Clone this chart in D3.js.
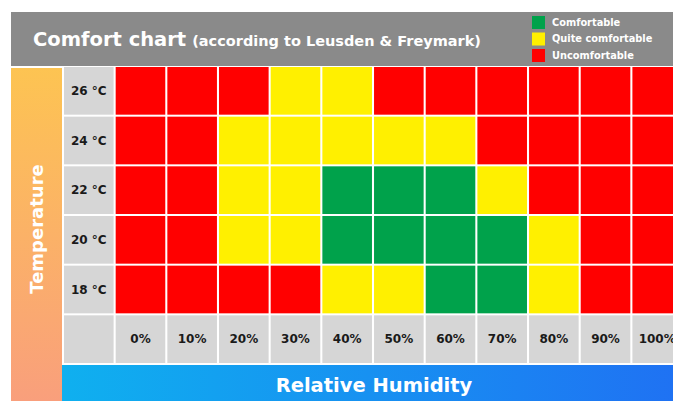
<!DOCTYPE html>
<html>
<head>
<meta charset="utf-8">
<script src="https://cdn.jsdelivr.net/npm/d3@7"></script>
<style>
  body { margin: 0; background: #fff; }
  svg { display: block; font-family: "DejaVu Sans", sans-serif; }
</style>
</head>
<body>
<div id="chart"></div>
<script>
// relative humidity columns and temperature rows
const humidity = ["0%", "10%", "20%", "30%", "40%", "50%", "60%", "70%", "80%", "90%", "100%"];
const temperatures = ["26 °C", "24 °C", "22 °C", "20 °C", "18 °C"];

// comfort level per cell, C = comfortable, Q = quite comfortable, U = uncomfortable
const row26 = ["U", "U", "U", "Q", "Q", "U", "U", "U", "U", "U", "U"];
const row24 = ["U", "U", "Q", "Q", "Q", "Q", "Q", "U", "U", "U", "U"];
const row22 = ["U", "U", "Q", "Q", "C", "C", "C", "Q", "U", "U", "U"];
const row20 = ["U", "U", "Q", "Q", "C", "C", "C", "C", "Q", "U", "U"];
const row18 = ["U", "U", "U", "U", "Q", "Q", "C", "C", "Q", "U", "U"];
const levels = [row26, row24, row22, row20, row18];

const legendKeys = ["C", "Q", "U"];
const legendLabels = ["Comfortable", "Quite comfortable", "Uncomfortable"];

const width = 673, height = 401;

const svg = d3.select("#chart").append("svg")
  .attr("width", width)
  .attr("height", height);

const defs = svg.append("defs");
const gradT = defs.append("linearGradient").attr("id", "tempGrad")
  .attr("x1", 0).attr("y1", 0).attr("x2", 0).attr("y2", 1);
gradT.append("stop").attr("offset", "0%").attr("stop-color", "#fdc452");
gradT.append("stop").attr("offset", "100%").attr("stop-color", "#f99f7c");

const gradH = defs.append("linearGradient").attr("id", "humGrad")
  .attr("x1", 0).attr("y1", 0).attr("x2", 1).attr("y2", 0);
gradH.append("stop").attr("offset", "0%").attr("stop-color", "#0fb0ef");
gradH.append("stop").attr("offset", "100%").attr("stop-color", "#1f72f3");

const color = d3.scaleOrdinal()
  .domain(["C", "Q", "U"])
  .range(["#00a24b", "#fff000", "#ff0000"]);

// first column / last row hold the axis labels
const x = d3.scaleBand()
  .domain([""].concat(humidity))
  .range([64, 682])
  .paddingInner(0.04)
  .paddingOuter(0);

const y = d3.scaleBand()
  .domain(temperatures.concat([""]))
  .range([67, 363])
  .paddingInner(0.04)
  .paddingOuter(0);

// header
svg.append("rect")
  .attr("x", 11).attr("y", 12)
  .attr("width", width - 11).attr("height", 54)
  .attr("fill", "#8a8a8a");

const title = svg.append("text")
  .attr("x", 33).attr("y", 46)
  .attr("fill", "#fff")
  .attr("font-weight", 700);
title.append("tspan").attr("font-size", 19.5).text("Comfort chart");
title.append("tspan").attr("font-size", 14.5).attr("dx", 6).text("(according to Leusden & Freymark)");

// legend
const legend = svg.append("g").selectAll("g")
  .data(legendKeys)
  .join("g")
  .attr("transform", (d, i) => `translate(532, ${16 + i * 16.5})`);
legend.append("rect")
  .attr("width", 13).attr("height", 13)
  .attr("fill", d => color(d));
legend.append("text")
  .attr("x", 20).attr("y", 6.5)
  .attr("dy", "0.35em")
  .attr("fill", "#fff")
  .attr("font-size", 9.8)
  .attr("font-weight", 700)
  .text((d, i) => legendLabels[i]);

// temperature side bar
svg.append("rect")
  .attr("x", 11).attr("y", 68)
  .attr("width", 51).attr("height", height - 68)
  .attr("fill", "url(#tempGrad)");
svg.append("text")
  .attr("transform", "translate(37, 229) rotate(-90)")
  .attr("text-anchor", "middle")
  .attr("dy", "0.35em")
  .attr("fill", "#fff")
  .attr("font-size", 18)
  .attr("font-weight", 700)
  .text("Temperature");

// humidity bottom bar
svg.append("rect")
  .attr("x", 62).attr("y", 365)
  .attr("width", width - 62).attr("height", height - 365)
  .attr("fill", "url(#humGrad)");
svg.append("text")
  .attr("x", 374).attr("y", 385)
  .attr("text-anchor", "middle")
  .attr("dy", "0.35em")
  .attr("fill", "#fff")
  .attr("font-size", 19.5)
  .attr("font-weight", 700)
  .text("Relative Humidity");

// label cells (gray)
const grayCells = temperatures.map(t => ({ col: "", row: t, text: t }))
  .concat(humidity.map(h => ({ col: h, row: "", text: h })))
  .concat([{ col: "", row: "", text: "" }]);

const labels = svg.append("g").selectAll("g")
  .data(grayCells)
  .join("g");
labels.append("rect")
  .attr("x", d => x(d.col))
  .attr("y", d => y(d.row))
  .attr("width", x.bandwidth())
  .attr("height", y.bandwidth())
  .attr("fill", "#d6d6d6");
labels.append("text")
  .attr("x", d => x(d.col) + x.bandwidth() / 2)
  .attr("y", d => y(d.row) + y.bandwidth() / 2)
  .attr("text-anchor", "middle")
  .attr("dy", "0.35em")
  .attr("fill", "#1a1a1a")
  .attr("font-size", 12)
  .attr("font-weight", 700)
  .text(d => d.text);

// comfort cells
const cells = [];
temperatures.forEach((t, i) => {
  humidity.forEach((h, j) => {
    cells.push({ row: t, col: h, level: levels[i][j] });
  });
});

svg.append("g").selectAll("rect")
  .data(cells)
  .join("rect")
  .attr("x", d => x(d.col))
  .attr("y", d => y(d.row))
  .attr("width", x.bandwidth())
  .attr("height", y.bandwidth())
  .attr("fill", d => color(d.level));
</script>
</body>
</html>
